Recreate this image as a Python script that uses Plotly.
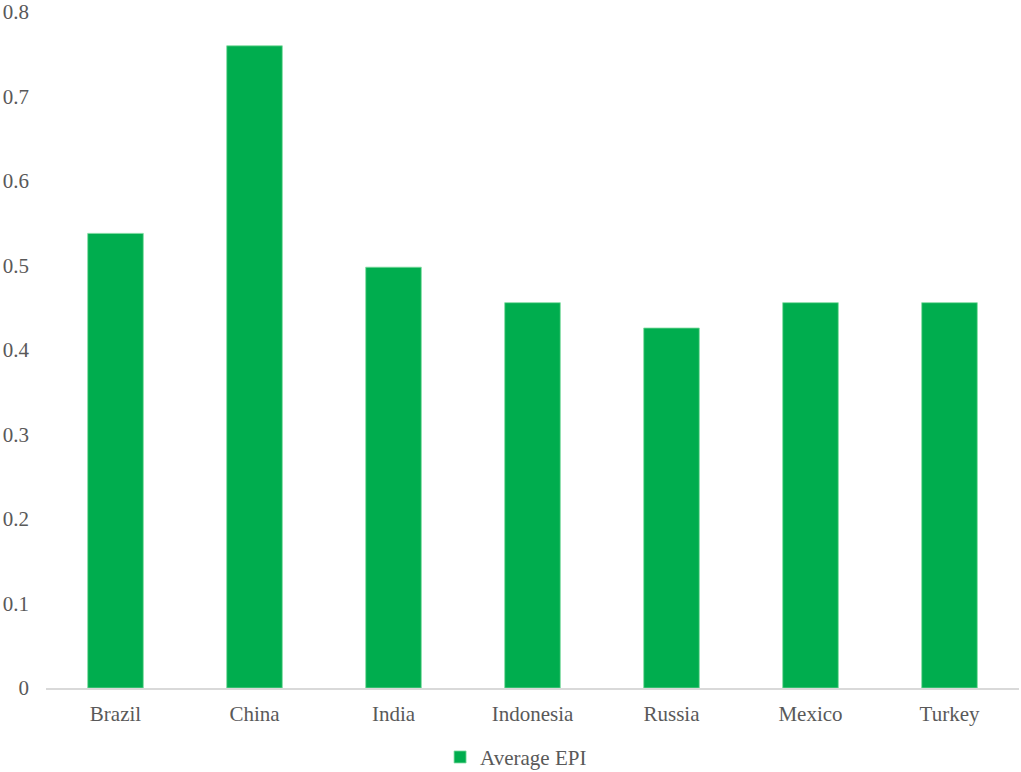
import plotly.graph_objects as go

countries = ["Brazil", "China", "India", "Indonesia", "Russia", "Mexico", "Turkey"]
avg_epi = [0.538, 0.760, 0.498, 0.456, 0.426, 0.456, 0.456]
y_ticks = [0, 0.1, 0.2, 0.3, 0.4, 0.5, 0.6, 0.7, 0.8]
y_tick_labels = ["0", "0.1", "0.2", "0.3", "0.4", "0.5", "0.6", "0.7", "0.8"]

fig = go.Figure()
fig.add_trace(go.Bar(
    x=countries, y=avg_epi, name="Average EPI",
    marker=dict(color="#00ad4e", line=dict(color="#7fdca0", width=0.8)),
    width=0.4,
))

font = dict(family="Liberation Serif, Times New Roman, serif", size=21, color="#595959")
fig.update_layout(
    width=1021, height=772,
    margin=dict(l=46, r=2, t=12, b=84, autoexpand=False),
    plot_bgcolor="white", paper_bgcolor="white",
    font=font,
    showlegend=True,
    legend=dict(orientation="h", x=0.405, xanchor="left", y=0.019, yanchor="middle",
                yref="container", font=font, itemwidth=30),
    xaxis=dict(showgrid=False, showline=True, linecolor="#d9d9d9", linewidth=1.5,
               ticks="", tickfont=font, ticklabelstandoff=6, automargin=False),
    yaxis=dict(range=[0, 0.8], tickvals=y_ticks, ticktext=y_tick_labels,
               showgrid=False, zeroline=False, showline=False, ticks="",
               tickfont=font, ticklabelstandoff=16, automargin=False,
               ticklabeloverflow="allow"),
)

fig.write_html("out.html", config={"displayModeBar": False},
               post_script="document.body.style.margin='0';document.body.style.overflow='hidden';")
